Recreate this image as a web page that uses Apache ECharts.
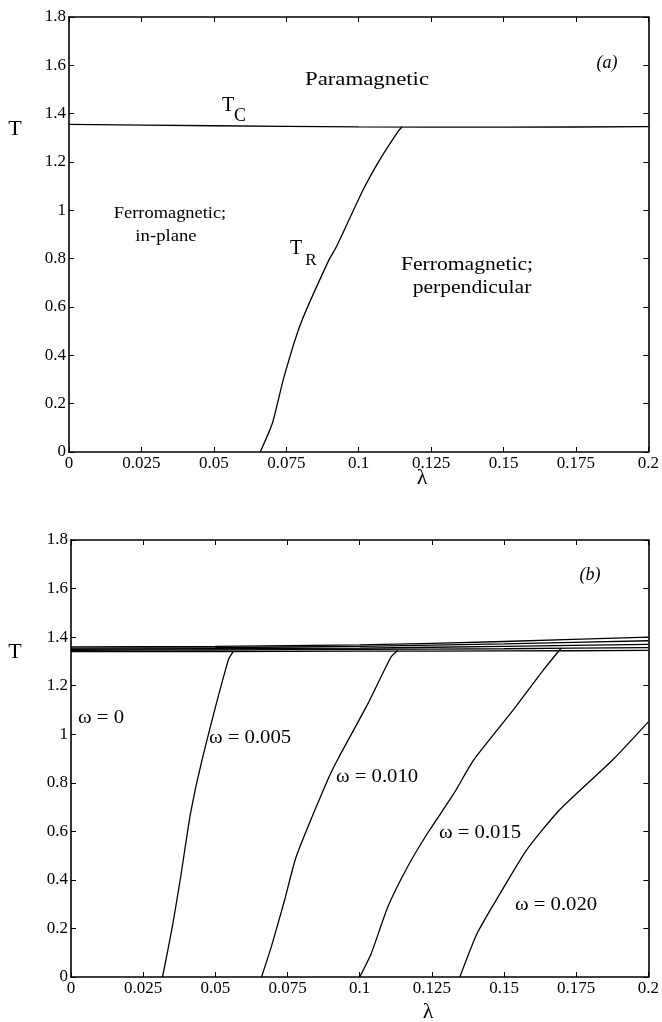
<!DOCTYPE html>
<html>
<head>
<meta charset="utf-8">
<script src="https://cdn.jsdelivr.net/npm/echarts@6/dist/echarts.min.js"></script>
<style>html,body{margin:0;padding:0;background:#fff;}#c{width:662px;height:1022px;}</style>
</head>
<body>
<div id="c"></div>
<script>
// ---- Panel (a) data ----
const lambdaTcA = [0, 0.05, 0.1, 0.15, 0.2];
const tTcA = [1.356, 1.350, 1.345, 1.344, 1.346];
const lambdaTrA = [0.066, 0.0702, 0.0742, 0.080, 0.0897, 0.0923, 0.1015, 0.1072, 0.1135, 0.1150];
const tTrA = [0, 0.119, 0.31, 0.532, 0.794, 0.849, 1.084, 1.208, 1.325, 1.346];

// ---- Panel (b) data ----
const lambdaTcB = [0, 0.05, 0.1, 0.15, 0.2];
const tTcB0 = [1.340, 1.340, 1.342, 1.343, 1.345];
const tTcB1 = [1.345, 1.347, 1.350, 1.352, 1.357];
const tTcB2 = [1.350, 1.352, 1.355, 1.362, 1.370];
const tTcB3 = [1.355, 1.357, 1.362, 1.372, 1.385];
const tTcB4 = [1.360, 1.362, 1.368, 1.382, 1.400];

const lambdaW005 = [0.0317, 0.0351, 0.038, 0.0414, 0.0454, 0.0545, 0.0563];
const tW005 = [0, 0.207, 0.413, 0.674, 0.894, 1.306, 1.342];
const lambdaW010 = [0.066, 0.0694, 0.074, 0.078, 0.0889, 0.0926, 0.1029, 0.1109, 0.1132];
const tW010 = [0, 0.125, 0.317, 0.495, 0.811, 0.901, 1.127, 1.319, 1.345];
const lambdaW015 = [0.1, 0.104, 0.1098, 0.1166, 0.1235, 0.1327, 0.1395, 0.1532, 0.1636, 0.1698];
const tW015 = [0, 0.097, 0.29, 0.454, 0.592, 0.757, 0.894, 1.1, 1.264, 1.355];
const lambdaW020 = [0.1347, 0.1407, 0.1487, 0.1578, 0.1692, 0.1876, 0.2];
const tW020 = [0, 0.18, 0.345, 0.523, 0.688, 0.894, 1.051];

const xTicks = ['0', '0.025', '0.05', '0.075', '0.1', '0.125', '0.15', '0.175', '0.2'];

const FONT = 'Liberation Serif';
function pairs(xs, ys) { return xs.map((x, i) => [x, ys[i]]); }

const chart = echarts.init(document.getElementById('c'), null, {renderer: 'canvas'});

function xAxisDef(gi, pos) {
  return {
    type: 'value', gridIndex: gi, position: pos, min: 0, max: 0.2, interval: 0.025,
    axisLine: {show: true, onZero: false, lineStyle: {color: '#000', width: 1.6}},
    axisTick: {show: true, inside: true, length: 5, lineStyle: {color: '#000', width: 1}},
    axisLabel: pos === 'bottom' ? {
      show: true, margin: 3, color: '#000', fontFamily: FONT, fontSize: 17,
      formatter: function (v) { return xTicks[Math.round(v / 0.025)]; }
    } : {show: false},
    splitLine: {show: false}
  };
}
function yAxisDef(gi, pos) {
  return {
    type: 'value', gridIndex: gi, position: pos, min: 0, max: 1.8, interval: 0.2,
    axisLine: {show: true, onZero: false, lineStyle: {color: '#000', width: 1.6}},
    axisTick: {show: true, inside: true, length: 5, lineStyle: {color: '#000', width: 1}},
    axisLabel: pos === 'left' ? {
      show: true, margin: 3, color: '#000', fontFamily: FONT, fontSize: 17,
      formatter: function (v) { return String(Math.round(v * 10) / 10); }
    } : {show: false},
    splitLine: {show: false}
  };
}

function lineSeries(xi, yi, data) {
  return {
    type: 'line', xAxisIndex: xi, yAxisIndex: yi, data: data,
    showSymbol: false, symbol: 'none', smooth: 0.2,
    lineStyle: {color: '#000', width: 1.3}, silent: true, animation: false
  };
}

function txt(x, y, s, size, opts) {
  opts = opts || {};
  return {
    type: 'text', x: x, y: y, scaleX: opts.sx || 1,
    style: {
      text: s, fill: '#000', fontFamily: FONT, fontSize: size,
      fontStyle: opts.italic ? 'italic' : 'normal',
      textAlign: 'center', textVerticalAlign: 'middle'
    }
  };
}

const option = {
  animation: false,
  backgroundColor: '#fff',
  grid: [
    {left: 69, top: 17, width: 582, height: 435, show: false},
    {left: 71, top: 540, width: 583, height: 437, show: false}
  ],
  xAxis: [xAxisDef(0, 'bottom'), xAxisDef(0, 'top'), xAxisDef(1, 'bottom'), xAxisDef(1, 'top')],
  yAxis: [yAxisDef(0, 'left'), yAxisDef(0, 'right'), yAxisDef(1, 'left'), yAxisDef(1, 'right')],
  series: [
    lineSeries(0, 0, pairs(lambdaTcA, tTcA)),
    lineSeries(0, 0, pairs(lambdaTrA, tTrA)),
    lineSeries(2, 2, pairs(lambdaTcB, tTcB0)),
    lineSeries(2, 2, pairs(lambdaTcB, tTcB1)),
    lineSeries(2, 2, pairs(lambdaTcB, tTcB2)),
    lineSeries(2, 2, pairs(lambdaTcB, tTcB3)),
    lineSeries(2, 2, pairs(lambdaTcB, tTcB4)),
    lineSeries(2, 2, pairs(lambdaW005, tW005)),
    lineSeries(2, 2, pairs(lambdaW010, tW010)),
    lineSeries(2, 2, pairs(lambdaW015, tW015)),
    lineSeries(2, 2, pairs(lambdaW020, tW020))
  ],
  graphic: [
    // panel (a)
    txt(15, 129, 'T', 22),
    txt(422, 478, 'λ', 22),
    txt(367, 80, 'Paramagnetic', 19, {sx: 1.2}),
    txt(607, 63, '(a)', 18, {italic: true}),
    txt(228, 106, 'T', 20),
    txt(240, 116, 'C', 18),
    txt(170, 214, 'Ferromagnetic;', 16, {sx: 1.15}),
    txt(166, 237, 'in-plane', 17, {sx: 1.1}),
    txt(296, 249, 'T', 20),
    txt(311, 261, 'R', 17),
    txt(467, 265, 'Ferromagnetic;', 18, {sx: 1.2}),
    txt(472, 288, 'perpendicular', 18, {sx: 1.2}),
    // panel (b)
    txt(15, 652, 'T', 22),
    txt(428, 1012, 'λ', 22),
    txt(590, 575, '(b)', 18, {italic: true}),
    txt(101, 718, 'ω = 0', 18, {sx: 1.15}),
    txt(250, 738, 'ω = 0.005', 18, {sx: 1.15}),
    txt(377, 777, 'ω = 0.010', 18, {sx: 1.15}),
    txt(480, 833, 'ω = 0.015', 18, {sx: 1.15}),
    txt(556, 905, 'ω = 0.020', 18, {sx: 1.15})
  ]
};
chart.setOption(option);
</script>
</body>
</html>
